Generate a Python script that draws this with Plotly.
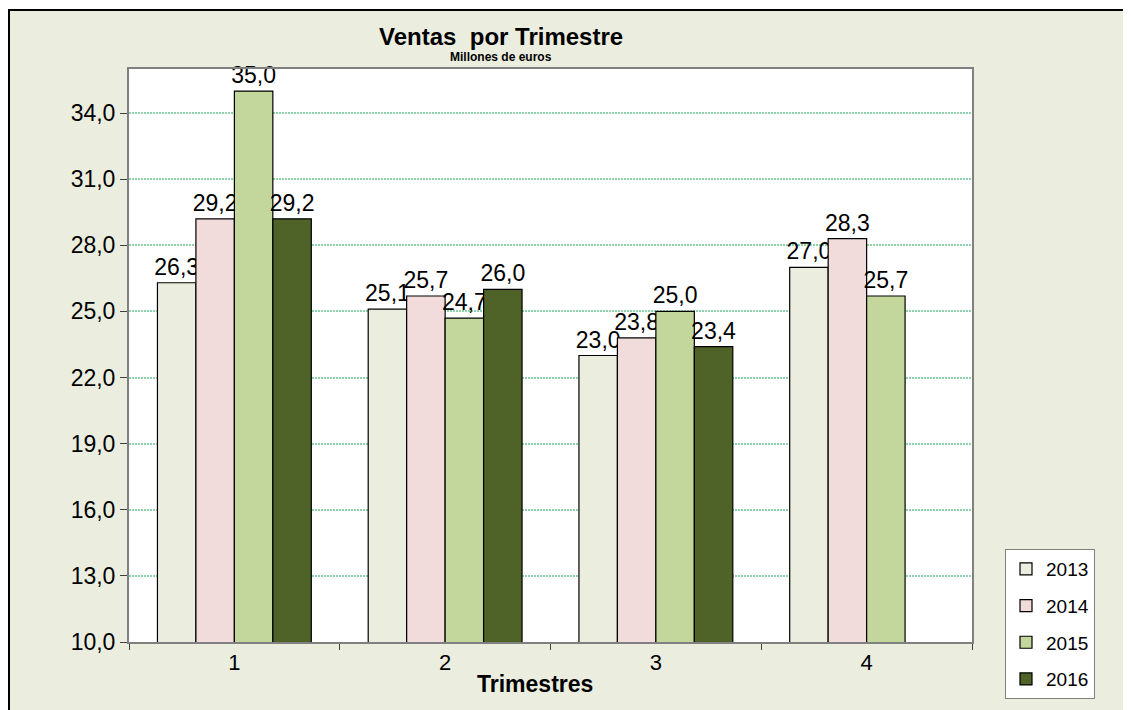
import plotly.graph_objects as go

trimestres = ["1", "2", "3", "4"]
v2013 = [26.3, 25.1, 23.0, 27.0]
v2014 = [29.2, 25.7, 23.8, 28.3]
v2015 = [35.0, 24.7, 25.0, 25.7]
v2016 = [29.2, 26.0, 23.4, None]
years = ["2013", "2014", "2015", "2016"]
series = [v2013, v2014, v2015, v2016]
colors = ["#EBEEDF", "#F2DCDB", "#C3D69B", "#4F6228"]
y_ticks = [10, 13, 16, 19, 22, 25, 28, 31, 34]

OFF = 8  # page body margin
W, H = 1131 - OFF, 710 - OFF
# screen coordinates of plot area
SL, SR, ST, SB = 129, 972, 69, 642
L, R, T, B = SL - OFF, SR - OFF, ST - OFF, SB - OFF

def px(X):
    return (X - SL) / (SR - SL)

def py(Y):
    return (SB - Y) / (SB - ST)

font = "Liberation Sans, Arial, sans-serif"

fig = go.Figure()
for name, vals, col in zip(years, series, colors):
    fig.add_trace(go.Bar(
        x=trimestres, y=vals, name=name, legendgroup=name,
        marker=dict(color=col, line=dict(color="black", width=1.2)),
        texttemplate="%{y:.1f}", textposition="outside",
        textfont=dict(family=font, size=23, color="black"),
        constraintext="none", cliponaxis=False,
    ))

fig.update_layout(
    width=W, height=H,
    margin=dict(l=L, r=W - R, t=T, b=H - B, pad=0, autoexpand=False),
    paper_bgcolor="#EBEEDF", plot_bgcolor="white",
    separators=",.",
    barmode="group", bargap=0.27, bargroupgap=0,
    font=dict(family=font, size=23, color="black"),
    showlegend=True,
    legend=dict(
        x=px(1005), y=py(549), xanchor="left", yanchor="top",
        bgcolor="white", bordercolor="#808080", borderwidth=1,
        font=dict(family=font, size=19, color="black"),
        tracegroupgap=9, traceorder="grouped", itemwidth=30,
    ),
    xaxis=dict(
        type="category", tickson="boundaries", ticks="outside", ticklen=6,
        tickcolor="#404040", showline=True, linecolor="#808080", linewidth=2,
        mirror=True, showgrid=False, tickfont=dict(size=22),
    ),
    yaxis=dict(
        range=[10, 36], tickvals=y_ticks, tickformat=".1f", ticks="outside",
        ticklen=7, tickcolor="#404040", showline=True, linecolor="#808080",
        linewidth=2, mirror=True, showgrid=True, gridcolor="#8ED2AA",
        griddash="2px,1px", gridwidth=2, zeroline=False, tickfont=dict(size=23),
    ),
    shapes=[
        dict(type="rect", xref="paper", yref="paper", x0=-0.3, x1=1.4,
             y0=py(10), y1=1.3, fillcolor="white", line=dict(width=0)),
        dict(type="line", xref="paper", yref="paper", x0=px(8), x1=1.4,
             y0=py(10), y1=py(10), line=dict(color="black", width=2)),
        dict(type="line", xref="paper", yref="paper", x0=px(9), x1=px(9),
             y0=py(10), y1=-0.3, line=dict(color="black", width=2)),
    ],
    annotations=[
        dict(text="<b>Ventas  por Trimestre</b>", xref="paper", yref="paper",
             x=px(501), y=py(36), xanchor="center", yanchor="middle",
             showarrow=False, font=dict(family=font, size=24, color="black")),
        dict(text="<b>Millones de euros</b>", xref="paper", yref="paper",
             x=px(501), y=py(57), xanchor="center", yanchor="middle",
             showarrow=False, font=dict(family=font, size=12, color="black")),
        dict(text="<b>Trimestres</b>", xref="paper", yref="paper",
             x=px(535), y=py(684), xanchor="center", yanchor="middle",
             showarrow=False, font=dict(family=font, size=23, color="black")),
    ],
)

fig.write_html("out.html")
